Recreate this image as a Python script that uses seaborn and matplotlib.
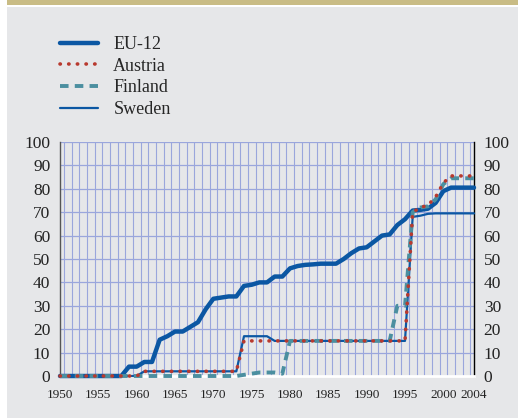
import numpy as np
import pandas as pd
import matplotlib
matplotlib.use('Agg')
import matplotlib.pyplot as plt
from matplotlib.patches import Rectangle
from matplotlib.ticker import MultipleLocator, FixedLocator
import seaborn as sns

# Data
years = list(range(1950, 2005))

eu12 = [0, 0, 0, 0, 0, 0, 0, 0, 0,
        4, 4, 6, 6, 15.5, 17, 19, 19, 21, 23,
        28.5, 33, 33.5, 34, 34, 38.5, 39, 40, 40, 42.5,
        42.5, 46, 47, 47.5, 47.7, 48, 48, 48, 50, 52.5,
        54.5, 55, 57.5, 60, 60.5, 64.5, 67, 70.7, 71, 71.5,
        74, 79, 80.5, 80.5, 80.5, 80.5]

austria = [0] * 11 + [2] * 13 + [15] * 22 + [70, 72, 73, 76.5, 82.5, 85.5, 85.5, 85.5, 85.5]

finland = ([0] * 24 + [0.5, 1, 1.5, 1.5, 1.5, 1] + [15] * 14 + [30, 30]
           + [70, 72, 72.5, 75.5, 82, 84.5, 84.5, 84.5, 84.5])

sweden = [0] * 11 + [2] * 13 + [17] * 4 + [15] * 18 + [68, 68.5, 69.3] + [69.5] * 6

df = pd.DataFrame({'year': years, 'EU-12': eu12, 'Austria': austria,
                   'Finland': finland, 'Sweden': sweden})

bg = '#e6e7e9'
blue = '#0b57a3'
red = '#b8392e'
teal = '#4b8fa0'
gridc = '#9aa6dc'

sns.set_style('white')
plt.rcParams['font.family'] = ['Liberation Serif', 'DejaVu Serif']

fig = plt.figure(figsize=(5.18, 4.18), dpi=100, facecolor='white')
# grey panel and gold band on top
fig.patches.append(Rectangle((7 / 518, 0), 1, 1 - 7 / 418, transform=fig.transFigure,
                             facecolor=bg, edgecolor='none', zorder=-10))
fig.patches.append(Rectangle((7 / 518, 1 - 5 / 418), 1, 5 / 418, transform=fig.transFigure,
                             facecolor='#c9bc85', edgecolor='none', zorder=-10))

ax = fig.add_axes([60 / 518, 1 - 376 / 418, (474 - 60) / 518, (376 - 142) / 418])
ax.set_facecolor(bg)

sns.lineplot(data=df, x='year', y='EU-12', ax=ax, color=blue, lw=3.2,
             label='EU-12', clip_on=False, zorder=3)
sns.lineplot(data=df, x='year', y='Sweden', ax=ax, color=blue, lw=1.6,
             label='Sweden', clip_on=False, zorder=4)
sns.lineplot(data=df, x='year', y='Finland', ax=ax, color=teal, lw=2.8,
             linestyle=(0, (2.2, 1.6)), label='Finland', clip_on=False, zorder=5)
sns.lineplot(data=df, x='year', y='Austria', ax=ax, color=red, lw=2.6,
             linestyle=(0, (0.1, 2.3)), label='Austria', clip_on=False, zorder=6)
for ln in ax.get_lines():
    if ln.get_label() == 'Austria':
        ln.set_dash_capstyle('round')

ax.set_xlim(1950, 2004)
ax.set_ylim(0, 100)
ax.set_xlabel('')
ax.set_ylabel('')

ax.xaxis.set_major_locator(FixedLocator([1950, 1955, 1960, 1965, 1970, 1975,
                                         1980, 1985, 1990, 1995, 2000, 2004]))
ax.xaxis.set_minor_locator(FixedLocator(np.arange(1950.5, 2004, 1.0)))
ax.yaxis.set_major_locator(MultipleLocator(10))

ax.grid(True, which='minor', axis='x', color=gridc, lw=0.8)
ax.grid(True, which='major', axis='y', color=gridc, lw=0.9)
ax.set_axisbelow(True)

ax.tick_params(axis='x', which='major', length=0, labelsize=9.5, pad=9, colors='#222222')
ax.tick_params(axis='x', which='minor', length=3.5, width=0.8, color='black', direction='out')
ax.tick_params(axis='y', which='both', length=0, labelsize=12.5, colors='#222222',
               left=False, right=False, labelleft=True, labelright=True, pad=7)

ax.spines['top'].set_visible(False)
ax.spines['left'].set_color('#555555')
ax.spines['left'].set_linewidth(1.0)
ax.spines['right'].set_color('black')
ax.spines['right'].set_linewidth(1.0)
ax.spines['bottom'].set_color('white')
ax.spines['bottom'].set_linewidth(2.0)

handles, labels = ax.get_legend_handles_labels()
ax.get_legend().remove()
order = ['EU-12', 'Austria', 'Finland', 'Sweden']
hmap = dict(zip(labels, handles))
fig.legend([hmap[k] for k in order], order, loc='upper left',
           bbox_to_anchor=(60 / 518, 1 - 36 / 418), frameon=False, fontsize=13,
           handlelength=2.1, handletextpad=0.85, labelspacing=0.26, borderpad=0,
           borderaxespad=0)

fig.savefig('out.png', dpi=100, facecolor='white')
